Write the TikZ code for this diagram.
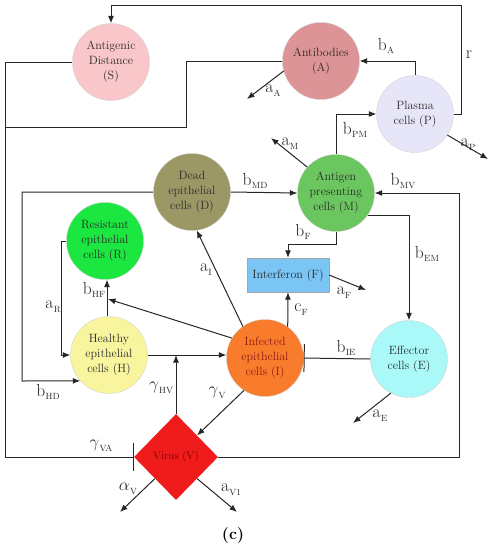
\documentclass[tikz,border=0pt]{standalone}
\usetikzlibrary{arrows.meta,shapes.geometric}
\definecolor{cS}{HTML}{F9C6C9}
\definecolor{cA}{HTML}{DC9496}
\definecolor{cP}{HTML}{E6E6F8}
\definecolor{cM}{HTML}{6CC660}
\definecolor{cD}{HTML}{9B9866}
\definecolor{cR}{HTML}{1CE640}
\definecolor{cH}{HTML}{F8F59E}
\definecolor{cI}{HTML}{F97C2D}
\definecolor{cE}{HTML}{AAF8F8}
\definecolor{cF}{HTML}{7BC5F5}
\definecolor{cV}{HTML}{F01C1C}
\definecolor{txt}{HTML}{2A2A2A}
\definecolor{txtI}{HTML}{8B1A10}
\definecolor{txtV}{HTML}{7A0000}
\newcommand{\lb}[2]{#1\kern0.3pt\raisebox{-0.5ex}{\fontsize{9}{9}\selectfont #2}}
\begin{document}
\begin{tikzpicture}[x=1pt,y=-1pt,
  cell/.style={circle, minimum size=77pt, inner sep=0pt, align=center,
    font=\fontsize{12}{15}\selectfont, text=txt, draw=black!20, line width=0.3pt},
  lbl/.style={font=\fontsize{17.5}{19}\selectfont, inner sep=0pt, text=black!85},
  conn/.style={line width=1pt, draw=black!85},
  arr/.style={conn, -{Latex[length=7.5pt,width=6pt]}},
  barend/.style={conn, -{Bar[width=28pt,line width=1pt]}}]
\useasboundingbox (0,0) rectangle (491,550);
% nodes
\node[cell, fill=cS] (S) at (111,62) {Antigenic\\Distance\\(S)};
\node[cell, fill=cA] (A) at (321,61) {Antibodies\\(A)};
\node[cell, fill=cP] (P) at (415,114) {Plasma\\cells (P)};
\node[cell, fill=cM] (M) at (336,193) {Antigen\\presenting\\cells (M)};
\node[cell, fill=cD] (D) at (192,192) {Dead\\epithelial\\cells (D)};
\node[cell, fill=cR] (R) at (105,241) {Resistant\\epithelial\\cells (R)};
\node[cell, fill=cH] (H) at (109,355) {Healthy\\epithelial\\cells (H)};
\node[cell, fill=cI, text=txtI] (I) at (265,358) {Infected\\epithelial\\cells (I)};
\node[cell, fill=cE] (E) at (409,359) {Effector\\cells (E)};
\node[rectangle, minimum width=82pt, minimum height=34pt, inner sep=0pt, fill=cF,
  draw=black!35, line width=0.3pt, font=\fontsize{12}{14}\selectfont, text=txt] (F) at (288,275) {Interferon (F)};
\node[diamond, minimum width=84pt, minimum height=86pt, inner sep=0pt, fill=cV,
  font=\fontsize{11}{12}\selectfont, text=txtV] (V) at (176,457) {Virus (V)};
% helper coordinates
\coordinate (rTop) at (461,5);
\coordinate (Lbot) at (5,457);
\coordinate (Lmid) at (5,127);
\coordinate (aKink) at (186,127);
\coordinate (aAend) at (247,99);
\coordinate (aPend) at (488,159);
\coordinate (aMend) at (271,138);
\coordinate (Lhd) at (22,381);
\coordinate (Lr) at (61,355);
\coordinate (hf) at (107,300);
\coordinate (hfTip) at (108,299);
\coordinate (bf) at (288,244);
\coordinate (aFend) at (366,290);
\coordinate (aEend) at (353,423);
\coordinate (Rb) at (459,457);
\coordinate (alVend) at (120,512);
\coordinate (aV1end) at (237,512);
% connectors
\draw[arr] (P.east) -| (rTop) -| (S.north);
\draw[barend] (S.west) -| (Lbot) -- (V.west);
\draw[conn] (A.west) -| (aKink) -- (Lmid);
\draw[arr] (P.north) |- (A.east);
\draw[arr] (A.195) -- (aAend);
\draw[arr] (M.north) |- (P.west);
\draw[arr] (P.-33) -- (aPend);
\draw[arr] (M.138) -- (aMend);
\draw[arr] (D.east) -- (M.west);
\draw[arr] (D.west) -| (Lhd) -- (H.222);
\draw[arr] (R.west) -| (Lr) -- (H.west);
\draw[arr] (hf |- H.north) -- (hf |- R.south);
\draw[arr] (I.149) -- (hfTip);
\draw[arr] (I.125) -- (D.-83);
\draw[arr] (H.east) -- (H.east -| I.west);
\draw[arr] (V.north) -- (V.north |- H.east);
\draw[arr] (I.237) -- (V.north east);
\draw[arr] (I.54) -- (F.south);
\draw[arr] (M.south) |- (bf) -- (F.north);
\draw[arr] (F.east) -- (aFend);
\draw[arr] (M.-35) -| (E.north);
\draw[barend] (E.west) -- (I.east);
\draw[arr] (E.242) -- (aEend);
\draw[arr] (V.east) -- (Rb) |- (M.east);
\draw[arr] (V.south west) -- (alVend);
\draw[arr] (V.south east) -- (aV1end);
% labels
\node[lbl] (l1) at (469,55) {r};
\node[lbl] (l2) at (386,46) {\lb{b}{A}};
\node[lbl] (l3) at (273,91) {\lb{a}{A}};
\node[lbl] (l4) at (355,130) {\lb{b}{PM}};
\node[lbl] (l5) at (468,145) {\lb{a}{P}};
\node[lbl] (l6) at (290,144) {\lb{a}{M}};
\node[lbl] (l7) at (255,181) {\lb{b}{MD}};
\node[lbl] (l8) at (403,181) {\lb{b}{MV}};
\node[lbl] (l9) at (303,232) {\lb{b}{F}};
\node[lbl] (l10) at (427,254) {\lb{b}{EM}};
\node[lbl] (l11) at (344,293) {\lb{a}{F}};
\node[lbl] (l12) at (301,310) {\lb{c}{F}};
\node[lbl] (l13) at (206,270) {\lb{a}{I}};
\node[lbl] (l14) at (94,290) {\lb{b}{HF}};
\node[lbl] (l15) at (53,307) {\lb{a}{R}};
\node[lbl] (l16) at (48,392) {\lb{b}{HD}};
\node[lbl] (l17) at (161,388) {\lb{$\gamma$}{HV}};
\node[lbl] (l18) at (217,393) {\lb{$\gamma$}{V}};
\node[lbl] (l19) at (101,446) {\lb{$\gamma$}{VA}};
\node[lbl] (l20) at (346,348) {\lb{b}{IE}};
\node[lbl] (l21) at (380,416) {\lb{a}{E}};
\node[lbl] (l22) at (128,489) {\lb{$\alpha$}{V}};
\node[lbl] (l23) at (231,490) {\lb{a}{V1}};
\node[font=\fontsize{16}{18}\selectfont\bfseries, inner sep=0pt] (cap) at (233,536) {(c)};
\end{tikzpicture}
\end{document}
